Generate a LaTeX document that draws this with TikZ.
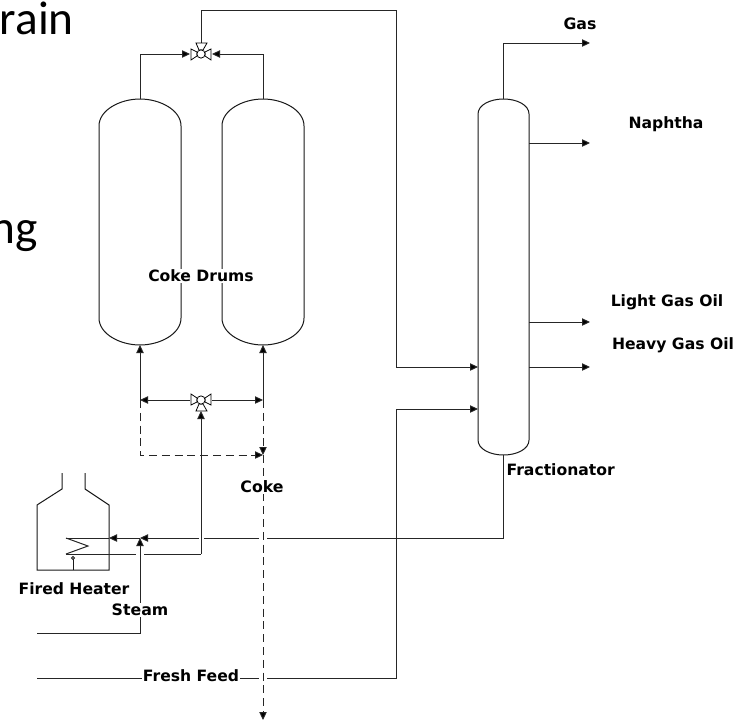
\documentclass[tikz,border=0pt]{standalone}
\usepackage{fontspec}
\setmainfont{DejaVu Sans}
\newfontfamily\slidefont{Carlito}
\usetikzlibrary{arrows.meta}
\tikzset{
  x=0.75pt,y=-0.75pt,
  pipe/.style={line width=0.75pt,draw=black!85},
  flow/.style={pipe,-{Triangle[length=6pt,width=5.5pt,fill=black]}},
  dflow/.style={flow,dash pattern=on 6pt off 3.6pt},
  vessel/.style={line width=0.75pt,draw=black!90},
  valvepart/.style={line width=0.6pt,draw=black,fill=white},
  boldlabel/.style={font=\bfseries\fontsize{11.8}{14}\selectfont,fill=white,inner sep=1pt},
  tinylabel/.style={font=\bfseries\fontsize{11.7}{14}\selectfont,fill=white,inner sep=1pt},
  slidetext/.style={font=\slidefont\fontsize{35.5}{40}\selectfont,inner sep=0pt,text=black}
}
\begin{document}
\begin{tikzpicture}
\useasboundingbox (0,0) rectangle (737,721);
\fill[white] (0,0) rectangle (737,721);
% named points
\coordinate (dlTop) at (140,99); \coordinate (dlBot) at (140,345);
\coordinate (drTop) at (263,99); \coordinate (drBot) at (263,345);
\coordinate (frTop) at (503.5,99); \coordinate (frBot) at (503.5,455);
\coordinate (upV) at (201,54); \coordinate (loV) at (201,400);
\coordinate (upVl) at (190,54); \coordinate (upVr) at (212,54); \coordinate (upVt) at (201,43);
\coordinate (loVl) at (190,400); \coordinate (loVr) at (212,400); \coordinate (loVb) at (201,411);
\coordinate (frIn1) at (478,367); \coordinate (frIn2) at (478,409);
\coordinate (outGas) at (590,43); \coordinate (outN) at (590,143);
\coordinate (outL) at (590,322); \coordinate (outH) at (590,367);
\coordinate (frN) at (529,143); \coordinate (frL) at (529,322); \coordinate (frH) at (529,367);
\coordinate (lj) at (140,400); \coordinate (rj) at (263,400);
\coordinate (cokeTip) at (263,455); \coordinate (cokeEnd) at (263,720);
\coordinate (steamIn) at (37,633); \coordinate (steamTip) at (140,538);
\coordinate (feedIn) at (37,678);
\coordinate (heatIn) at (109,538); \coordinate (coilT) at (66,538); \coordinate (coilB) at (66,554);

% vessels
\draw[vessel] (99,126) .. controls (99,110) and (120,99) .. (dlTop) .. controls (160,99) and (181,110) .. (181,126)
  -- (181,318) .. controls (181,334) and (160,345) .. (dlBot) .. controls (120,345) and (99,334) .. (99,318) -- cycle;
\draw[vessel] (222,126) .. controls (222,110) and (243,99) .. (drTop) .. controls (283,99) and (304,110) .. (304,126)
  -- (304,318) .. controls (304,334) and (283,345) .. (drBot) .. controls (243,345) and (222,334) .. (222,318) -- cycle;
\draw[vessel] (478,114) .. controls (478,105) and (490,99) .. (frTop) .. controls (517,99) and (529,105) .. (529,114)
  -- (529,440) .. controls (529,449) and (517,455) .. (frBot) .. controls (490,455) and (478,449) .. (478,440) -- cycle;
% fired heater
\draw[vessel] (62,473) -- (62,489) -- (37,505) -- (37,570) -- (109,570) -- (109,505) -- (85,489) -- (85,473);
\draw[vessel] (73,570) -- (73,559);
\draw[vessel,fill=white] (73,558) circle[radius=1.5];
\draw[pipe] (coilT) -- (88,546) -- (coilB);

% upper connections
\draw[pipe] (upVt) -- (201,10) -- (396,10) -- (396,367);
\draw[flow] (396,367) -- (frIn1);
\draw[flow] (dlTop) -- (140,54) -- (upVl);
\draw[flow] (drTop) -- (263,54) -- (upVr);
\draw[flow] (frTop) -- (503.5,43) -- (outGas);
\draw[flow] (frN) -- (outN);
\draw[flow] (frL) -- (outL);
\draw[flow] (frH) -- (outH);

% lower connections
\draw[flow] (lj) -- (dlBot);
\draw[flow] (rj) -- (drBot);
\draw[flow] (loVl) -- (lj);
\draw[flow] (loVr) -- (rj);
\draw[dflow] (lj) -- (140,455) -- (cokeTip);
\draw[dflow] (rj) -- (cokeTip);

% feed and recycle, with the gaps of the crossings
\draw[pipe] (feedIn) -- (259,678);
\draw[pipe] (267,678) -- (396,678) -- (396,409);
\draw[flow] (396,409) -- (frIn2);
\draw[pipe] (frBot) -- (503.5,538) -- (267,538);
\draw[pipe] (259,538) -- (204,538);
\draw[flow] (199,538) -- (steamTip);
\draw[flow] (steamTip) -- (heatIn);
\draw[pipe] (heatIn) -- (coilT);
\draw[flow] (steamIn) -- (140,633) -- (steamTip);
\draw[pipe] (coilB) -- (136,554);
\draw[pipe] (144,554) -- (201,554);
\draw[flow] (201,554) -- (loVb);
\draw[dflow] (cokeTip) -- (cokeEnd);

% valves
\draw[valvepart] (191,49) -- (191,60) -- (197,56) -- (197,52) -- cycle;
\draw[valvepart] (211,49) -- (211,60) -- (205,56) -- (205,52) -- cycle;
\draw[valvepart] (196,43) -- (207,43) -- (203,50) -- (199,50) -- cycle;
\node[circle,draw=black,fill=white,line width=0.6pt,minimum size=6.2pt,inner sep=0pt] (upValve) at (upV) {};
\draw[valvepart] (191,394) -- (191,405) -- (197,402) -- (197,398) -- cycle;
\draw[valvepart] (211,394) -- (211,405) -- (205,402) -- (205,398) -- cycle;
\draw[valvepart] (196,411) -- (207,411) -- (203,404) -- (199,404) -- cycle;
\node[circle,draw=black,fill=white,line width=0.6pt,minimum size=6.2pt,inner sep=0pt] (loValve) at (loV) {};

% labels
\node[tinylabel] (drums) at (201,276) {Coke Drums};
\node[tinylabel,anchor=west] (frac) at (505,470) {Fractionator};
\node[tinylabel] (heater) at (74,589) {Fired Heater};
\node[tinylabel] (feed) at (191,676) {Fresh Feed};
\node[tinylabel] (naph) at (666,124) {Naphtha};
\node[tinylabel] (lgo) at (667,302) {Light Gas Oil};
\node[tinylabel] (hgo) at (673,345) {Heavy Gas Oil};
\node[boldlabel] (gas) at (580,24) {Gas};
\node[boldlabel] (coke) at (262,487) {Coke};
\node[boldlabel] (steam) at (140,610) {Steam};
\node[slidetext,anchor=base east] (rain) at (74,34) {rain};
\node[slidetext,anchor=base east] (ng) at (38,243) {ng};
\end{tikzpicture}
\end{document}
